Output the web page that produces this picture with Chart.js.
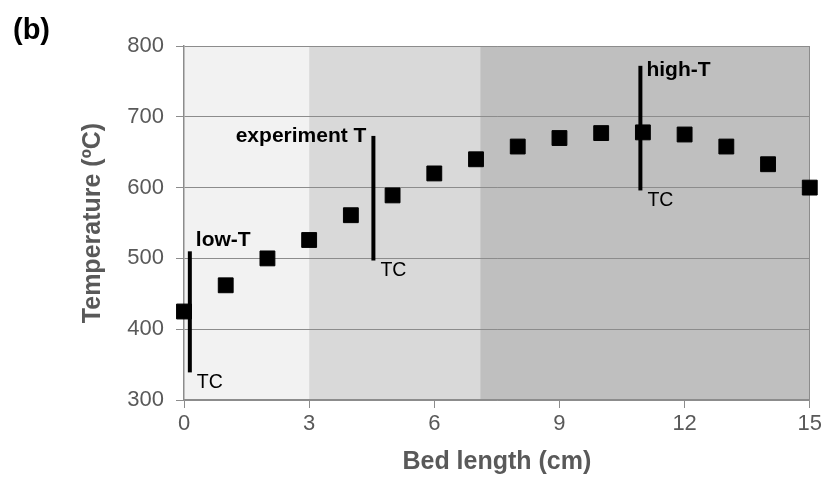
<!DOCTYPE html>
<html>
<head>
<meta charset="utf-8">
<script src="https://cdn.jsdelivr.net/npm/chart.js@4/dist/chart.umd.min.js"></script>
<style>
  html, body { margin: 0; padding: 0; background: #fff; }
  #wrap { width: 825px; height: 477px; }
</style>
</head>
<body>
<div id="wrap"><canvas id="bedChart" width="825" height="477"></canvas></div>
<script>
// datos
const bedLength = [0, 1, 2, 3, 4, 5, 6, 7, 8, 9, 10, 11, 12, 13, 14, 15];
const temperature = [425, 462, 500, 526, 561, 589, 620, 640, 658, 670, 677, 678, 675, 658, 633, 600];

// termopares (TC)
const tcLabels = ['low-T', 'experiment T', 'high-T'];
const tcPos = [0.14, 4.54, 10.94];
const tcTop = [510, 673, 772];
const tcBottom = [339, 497, 596];

// zonas sombreadas
const zoneEdges = [0, 3, 7.1, 15];
const zoneColors = ['#f2f2f2', '#d9d9d9', '#bfbfbf'];

const xTicks = [0, 3, 6, 9, 12, 15];
const gridGray = '#8c8c8c';
const textGray = '#595959';
const fontFam = '"Liberation Sans", Arial, sans-serif';

const tcDatasets = tcPos.map((x, i) => ({
    type: 'line',
    label: tcLabels[i],
    data: [{ x: x, y: tcBottom[i] }, { x: x, y: tcTop[i] }],
    borderColor: '#000',
    borderWidth: 4,
    pointRadius: 0,
    borderCapStyle: 'butt',
    clip: false
}));

const zonesPlugin = {
    id: 'zones',
    beforeDraw(chart) {
        const { ctx, chartArea, scales } = chart;
        ctx.save();
        for (let i = 0; i < zoneColors.length; i++) {
            const x0 = scales.x.getPixelForValue(zoneEdges[i]);
            const x1 = scales.x.getPixelForValue(zoneEdges[i + 1]);
            ctx.fillStyle = zoneColors[i];
            ctx.fillRect(x0, chartArea.top, x1 - x0, chartArea.bottom - chartArea.top);
        }
        ctx.restore();
    }
};

const labelsPlugin = {
    id: 'tcText',
    afterDatasetsDraw(chart) {
        const { ctx, scales } = chart;
        ctx.save();
        ctx.fillStyle = '#000';
        ctx.textBaseline = 'middle';
        tcPos.forEach((x, i) => {
            const px = scales.x.getPixelForValue(x);
            const top = scales.y.getPixelForValue(tcTop[i]);
            const bot = scales.y.getPixelForValue(tcBottom[i]);
            ctx.font = 'bold 21px ' + fontFam;
            if (i === 1) {
                ctx.textAlign = 'right';
                ctx.fillText(tcLabels[i], px - 7, top);
            } else {
                ctx.textAlign = 'left';
                ctx.fillText(tcLabels[i], px + 6, i === 0 ? top - 11 : top + 4);
            }
            ctx.font = '19.5px ' + fontFam;
            ctx.textAlign = 'left';
            ctx.fillText('TC', px + 7, bot + 10);
        });
        // etiqueta del panel
        ctx.font = 'bold 29px ' + fontFam;
        ctx.textAlign = 'left';
        ctx.fillText('(b)', 13, 31);
        ctx.restore();
    }
};

new Chart(document.getElementById('bedChart'), {
    type: 'scatter',
    data: {
        datasets: [{
            label: 'Temperature',
            data: bedLength.map((x, i) => ({ x: x, y: temperature[i] })),
            backgroundColor: '#000',
            borderColor: '#000',
            pointStyle: 'rect',
            pointRadius: 10.5,
            pointHoverRadius: 10.5,
            clip: false
        }, ...tcDatasets]
    },
    options: {
        responsive: false,
        animation: false,
        layout: { padding: { left: 74, top: 46, right: 13, bottom: 0 } },
        plugins: {
            legend: { display: false },
            tooltip: { enabled: false }
        },
        scales: {
            x: {
                type: 'linear',
                min: 0,
                max: 15,
                afterBuildTicks: s => { s.ticks = xTicks.map(v => ({ value: v })); },
                afterFit: s => { s.height = 77; },
                border: { color: gridGray, width: 1.5 },
                grid: {
                    drawOnChartArea: true,
                    color: c => (c.tick && c.tick.value === 15 ? gridGray : 'transparent'),
                    tickColor: gridGray,
                    tickLength: 8
                },
                ticks: {
                    color: textGray,
                    font: { family: fontFam, size: 22 },
                    padding: 3
                },
                title: {
                    display: true,
                    text: 'Bed length (cm)',
                    color: textGray,
                    font: { family: fontFam, size: 25, weight: 'bold' },
                    padding: { top: 0, bottom: 0 }
                }
            },
            y: {
                min: 300,
                max: 800,
                afterFit: s => { s.width = 110; },
                border: { color: gridGray, width: 1.5 },
                grid: {
                    color: gridGray,
                    tickColor: gridGray,
                    tickLength: 8
                },
                ticks: {
                    stepSize: 100,
                    color: textGray,
                    font: { family: fontFam, size: 22 },
                    padding: 12
                },
                title: {
                    display: true,
                    text: 'Temperature (ºC)',
                    color: textGray,
                    font: { family: fontFam, size: 25, weight: 'bold' },
                    padding: { top: 4, bottom: 4 }
                }
            }
        }
    },
    plugins: [zonesPlugin, labelsPlugin]
});
</script>
</body>
</html>
